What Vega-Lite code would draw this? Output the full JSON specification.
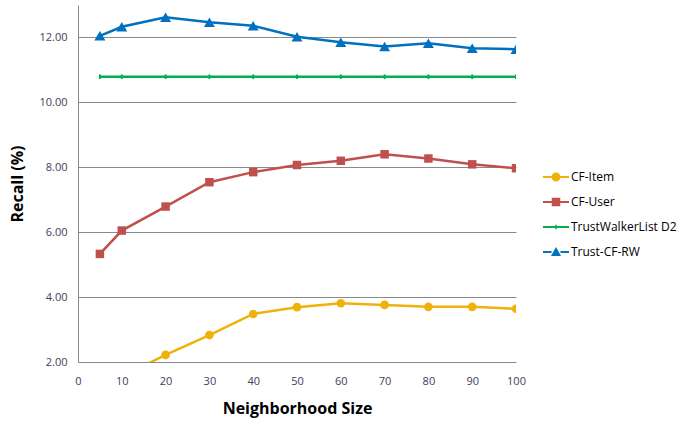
{
  "$schema": "https://vega.github.io/schema/vega-lite/v6.json",
  "width": 438,
  "height": 357,
  "autosize": {"type": "none"},
  "padding": {"left": 78, "top": 5, "right": 168, "bottom": 60},
  "background": "white",
  "config": {
    "view": {"stroke": null},
    "font": "Open Sans"
  },
  "data": {
    "values": [
      {"size": 5, "series": "CF-Item", "recall": 1.2},
      {"size": 10, "series": "CF-Item", "recall": 1.55},
      {"size": 20, "series": "CF-Item", "recall": 2.22},
      {"size": 30, "series": "CF-Item", "recall": 2.83},
      {"size": 40, "series": "CF-Item", "recall": 3.48},
      {"size": 50, "series": "CF-Item", "recall": 3.69},
      {"size": 60, "series": "CF-Item", "recall": 3.81},
      {"size": 70, "series": "CF-Item", "recall": 3.76},
      {"size": 80, "series": "CF-Item", "recall": 3.70},
      {"size": 90, "series": "CF-Item", "recall": 3.70},
      {"size": 100, "series": "CF-Item", "recall": 3.64},
      {"size": 5, "series": "CF-User", "recall": 5.33},
      {"size": 10, "series": "CF-User", "recall": 6.05},
      {"size": 20, "series": "CF-User", "recall": 6.79},
      {"size": 30, "series": "CF-User", "recall": 7.54},
      {"size": 40, "series": "CF-User", "recall": 7.85},
      {"size": 50, "series": "CF-User", "recall": 8.07},
      {"size": 60, "series": "CF-User", "recall": 8.20},
      {"size": 70, "series": "CF-User", "recall": 8.40},
      {"size": 80, "series": "CF-User", "recall": 8.27},
      {"size": 90, "series": "CF-User", "recall": 8.09},
      {"size": 100, "series": "CF-User", "recall": 7.97},
      {"size": 5, "series": "TrustWalkerList D2", "recall": 10.79},
      {"size": 10, "series": "TrustWalkerList D2", "recall": 10.79},
      {"size": 20, "series": "TrustWalkerList D2", "recall": 10.79},
      {"size": 30, "series": "TrustWalkerList D2", "recall": 10.79},
      {"size": 40, "series": "TrustWalkerList D2", "recall": 10.79},
      {"size": 50, "series": "TrustWalkerList D2", "recall": 10.79},
      {"size": 60, "series": "TrustWalkerList D2", "recall": 10.79},
      {"size": 70, "series": "TrustWalkerList D2", "recall": 10.79},
      {"size": 80, "series": "TrustWalkerList D2", "recall": 10.79},
      {"size": 90, "series": "TrustWalkerList D2", "recall": 10.79},
      {"size": 100, "series": "TrustWalkerList D2", "recall": 10.79},
      {"size": 5, "series": "Trust-CF-RW", "recall": 12.05},
      {"size": 10, "series": "Trust-CF-RW", "recall": 12.33},
      {"size": 20, "series": "Trust-CF-RW", "recall": 12.62},
      {"size": 30, "series": "Trust-CF-RW", "recall": 12.47},
      {"size": 40, "series": "Trust-CF-RW", "recall": 12.36},
      {"size": 50, "series": "Trust-CF-RW", "recall": 12.02},
      {"size": 60, "series": "Trust-CF-RW", "recall": 11.85},
      {"size": 70, "series": "Trust-CF-RW", "recall": 11.72},
      {"size": 80, "series": "Trust-CF-RW", "recall": 11.82},
      {"size": 90, "series": "Trust-CF-RW", "recall": 11.67},
      {"size": 100, "series": "Trust-CF-RW", "recall": 11.64}
    ]
  },
  "encoding": {
    "x": {
      "field": "size", "type": "quantitative",
      "scale": {"domain": [0, 100], "nice": false},
      "axis": {
        "title": "Neighborhood Size",
        "titleFont": "Open Sans", "titleFontSize": 16, "titleFontWeight": "bold", "titleColor": "#000000",
        "titlePadding": 14,
        "values": [0, 10, 20, 30, 40, 50, 60, 70, 80, 90, 100],
        "grid": false, "ticks": false, "domain": false,
        "labelFont": "Open Sans", "labelFontSize": 11, "labelColor": "#404058",
        "labelPadding": 13, "labelFlush": false
      }
    },
    "y": {
      "field": "recall", "type": "quantitative",
      "scale": {"domain": [2, 13], "nice": false, "zero": false},
      "axis": {
        "title": "Recall (%)",
        "titleFont": "Open Sans", "titleFontSize": 16, "titleFontWeight": "bold", "titleColor": "#000000",
        "titlePadding": 13,
        "values": [2, 4, 6, 8, 10, 12], "format": ".2f",
        "grid": true, "gridColor": "#8a8a8a", "gridWidth": 1,
        "ticks": false, "domain": true, "domainColor": "#8a8a8a",
        "labelFont": "Open Sans", "labelFontSize": 11, "labelColor": "#404058",
        "labelPadding": 11
      }
    },
    "color": {
      "field": "series", "type": "nominal",
      "scale": {
        "domain": ["CF-Item", "CF-User", "TrustWalkerList D2", "Trust-CF-RW"],
        "range": ["#F0B20A", "#C0504D", "#00B050", "#0070C0"]
      },
      "legend": {
        "title": null, "orient": "none", "legendX": 472, "legendY": 166,
        "labelFont": "Open Sans", "labelFontSize": 12, "labelColor": "#000000",
        "rowPadding": 13, "symbolSize": 100, "labelOffset": 9,
        "symbolStrokeWidth": 0, "symbolOpacity": 1,
        "encode": {
          "symbols": {
            "update": {
              "shape": {"signal": "datum.value === 'CF-Item' ? 'M-2.6,-0.22H-0.8V0.22H-2.6Z M0.8,-0.22H2.6V0.22H0.8Z M0.9,0A0.9,0.9,0,1,1,-0.9,0A0.9,0.9,0,1,1,0.9,0Z' : datum.value === 'CF-User' ? 'M-2.6,-0.22H-0.8V0.22H-2.6Z M0.8,-0.22H2.6V0.22H0.8Z M-0.85,-0.85H0.85V0.85H-0.85Z' : datum.value === 'TrustWalkerList D2' ? 'M-2.6,-0.22H-0.15V0.22H-2.6Z M0.15,-0.22H2.6V0.22H0.15Z M-0.15,-0.45H0.15V0.45H-0.15Z' : 'M-2.6,-0.22H-0.9V0.22H-2.6Z M0.9,-0.22H2.6V0.22H0.9Z M0,-1L1,0.8H-1Z'"},
              "fill": {"scale": "color", "field": "value"},
              "strokeWidth": {"value": 0}
            }
          }
        }
      }
    }
  },
  "layer": [
    {
      "mark": {"type": "line", "strokeWidth": 2.5, "clip": true},
      "encoding": {}
    },
    {
      "transform": [{"filter": "datum.series === 'CF-Item'"}],
      "mark": {"type": "point", "shape": "circle", "size": 75, "filled": true, "opacity": 1, "clip": true},
      "encoding": {}
    },
    {
      "transform": [{"filter": "datum.series === 'CF-User'"}],
      "mark": {"type": "point", "shape": "square", "size": 72, "filled": true, "opacity": 1, "clip": true},
      "encoding": {}
    },
    {
      "transform": [{"filter": "datum.series === 'TrustWalkerList D2'"}],
      "mark": {"type": "point", "shape": "M-0.4,-1H0.4V1H-0.4Z", "size": 22, "filled": true, "opacity": 1, "clip": true},
      "encoding": {}
    },
    {
      "transform": [{"filter": "datum.series === 'Trust-CF-RW'"}],
      "mark": {"type": "point", "shape": "triangle-up", "size": 120, "filled": true, "opacity": 1, "clip": true},
      "encoding": {}
    }
  ]
}
